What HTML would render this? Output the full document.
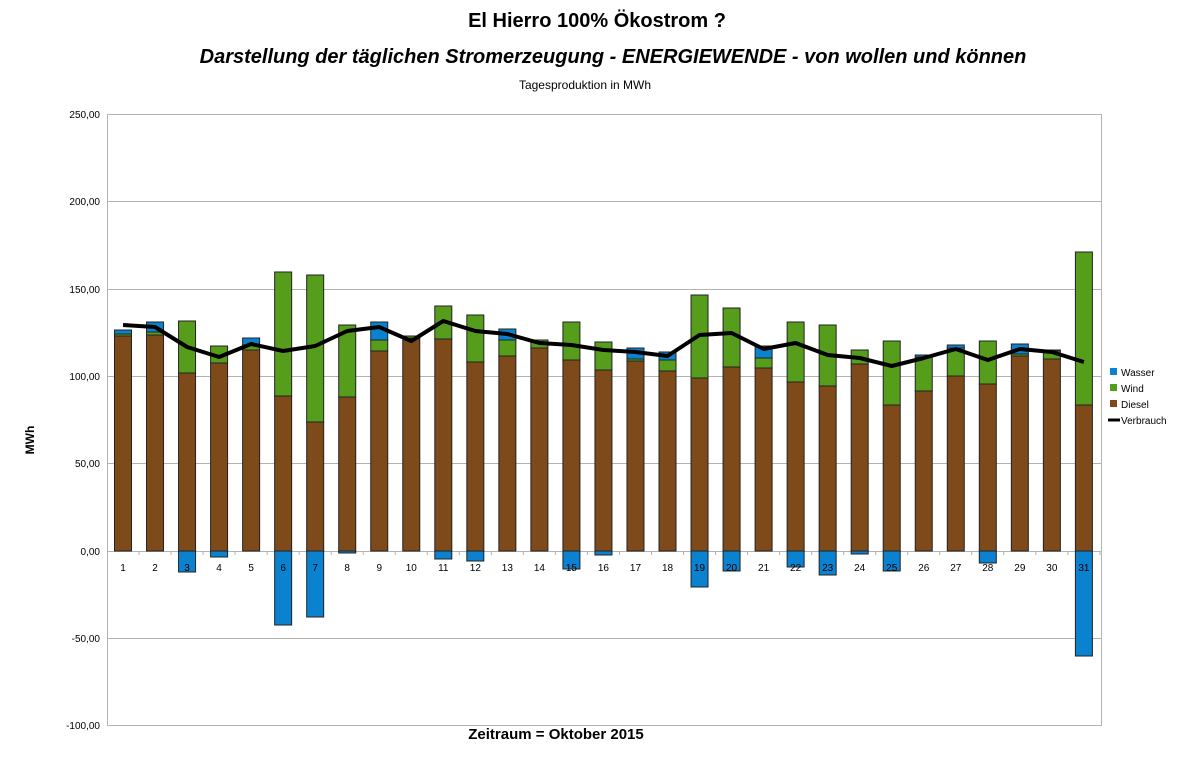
<!DOCTYPE html>
<html><head><meta charset="utf-8"><style>body{margin:0;background:#fff}svg{display:block;font-family:"Liberation Sans",sans-serif}</style></head><body>
<svg width="1193" height="783" viewBox="0 0 1193 783" xmlns="http://www.w3.org/2000/svg">
<rect width="1193" height="783" fill="#fff"/>
<text x="597" y="27" text-anchor="middle" font-size="20" font-weight="bold">El Hierro 100% Ökostrom  ?</text>
<text x="613" y="63" text-anchor="middle" font-size="20" font-weight="bold" font-style="italic">Darstellung der täglichen Stromerzeugung  - ENERGIEWENDE - von wollen und können</text>
<text x="585" y="89" text-anchor="middle" font-size="12">Tagesproduktion in MWh</text>
<g stroke="#b3b3b3" stroke-width="1">
<line x1="107" y1="114.5" x2="1102" y2="114.5"/><line x1="107" y1="201.5" x2="1102" y2="201.5"/><line x1="107" y1="289.5" x2="1102" y2="289.5"/><line x1="107" y1="376.5" x2="1102" y2="376.5"/><line x1="107" y1="463.5" x2="1102" y2="463.5"/><line x1="107" y1="551.5" x2="1102" y2="551.5"/><line x1="107" y1="725.5" x2="1102" y2="725.5"/><line x1="107.5" y1="114" x2="107.5" y2="725"/><line x1="1101.5" y1="114" x2="1101.5" y2="725"/><line x1="107" y1="638.5" x2="1102" y2="638.5"/>
</g>
<g font-size="10" text-anchor="end">
<text x="100" y="118">250,00</text><text x="100" y="205">200,00</text><text x="100" y="293">150,00</text><text x="100" y="380">100,00</text><text x="100" y="467">50,00</text><text x="100" y="555">0,00</text><text x="100" y="642">-50,00</text><text x="100" y="729">-100,00</text>
</g>
<text transform="translate(34,440) rotate(-90)" text-anchor="middle" font-size="12" font-weight="bold">MWh</text>
<g id="bars" stroke="#222" stroke-width="1"></g>
<g id="lbl" font-size="10" text-anchor="middle"></g>
<polyline id="ln" fill="none" stroke="#000" stroke-width="4" stroke-linejoin="round"/>
<text x="556" y="739" text-anchor="middle" font-size="15" font-weight="bold">Zeitraum = Oktober 2015</text>
<g font-size="10">
<rect x="1110" y="368" width="7" height="7" fill="#0a82d0"/><text x="1121" y="376">Wasser</text>
<rect x="1110" y="384" width="7" height="7" fill="#579d1c"/><text x="1121" y="392">Wind</text>
<rect x="1110" y="400" width="7" height="7" fill="#7e4a1a"/><text x="1121" y="408">Diesel</text>
<line x1="1108" y1="420" x2="1120" y2="420" stroke="#000" stroke-width="3"/><text x="1121" y="424">Verbrauch</text>
</g>
<script>
var d=[[336,334,330,551,325],[335,332,322,551,327],[373,321,321,572,347],[363,346,346,557,357],[350,345,338,551,344],[396,272,272,625,351],[422,275,275,617,346],[397,325,325,553,331],[351,340,322,551,327],[338,336,336,551,341],[339,306,306,559,321],[362,315,315,561,331],[356,340,329,551,334],[348,340,340,551,343],[360,322,322,569,345],[370,342,342,555,350],[361,359,348,551,352],[371,360,352,551,356],[378,295,295,587,335],[367,308,308,571,333],[368,358,346,551,349],[382,322,322,567,343],[386,325,325,575,355],[364,350,350,554,358],[405,341,341,571,366],[391,357,355,551,358],[376,348,345,551,349],[384,341,341,563,360],[356,354,344,551,349],[359,351,350,551,352],[405,252,252,656,362]];
var g=document.getElementById('bars'),L=document.getElementById('lbl'),pts=[],ns='http://www.w3.org/2000/svg';
function r(x,y1,y2,c){if(y2-y1<0.5)return;var e=document.createElementNS(ns,'rect');e.setAttribute('x',x);e.setAttribute('y',y1);e.setAttribute('width',17);e.setAttribute('height',y2-y1);e.setAttribute('fill',c);g.appendChild(e);}
d.forEach(function(v,i){var cx=123+i*32.03,x=cx-8.5;r(x,v[0],551,'#7e4a1a');r(x,v[1],v[0],'#579d1c');r(x,v[2],v[1],'#0a82d0');r(x,551,v[3],'#0a82d0');pts.push(cx.toFixed(1)+','+v[4]);
var t=document.createElementNS(ns,'text');t.setAttribute('x',cx);t.setAttribute('y',571);t.textContent=i+1;L.appendChild(t);
var k=document.createElementNS(ns,'line');k.setAttribute('x1',cx+16);k.setAttribute('x2',cx+16);k.setAttribute('y1',551);k.setAttribute('y2',555);k.setAttribute('stroke','#b3b3b3');L.appendChild(k);});
document.getElementById('ln').setAttribute('points',pts.join(' '));
</script>
</svg>
</body></html>
